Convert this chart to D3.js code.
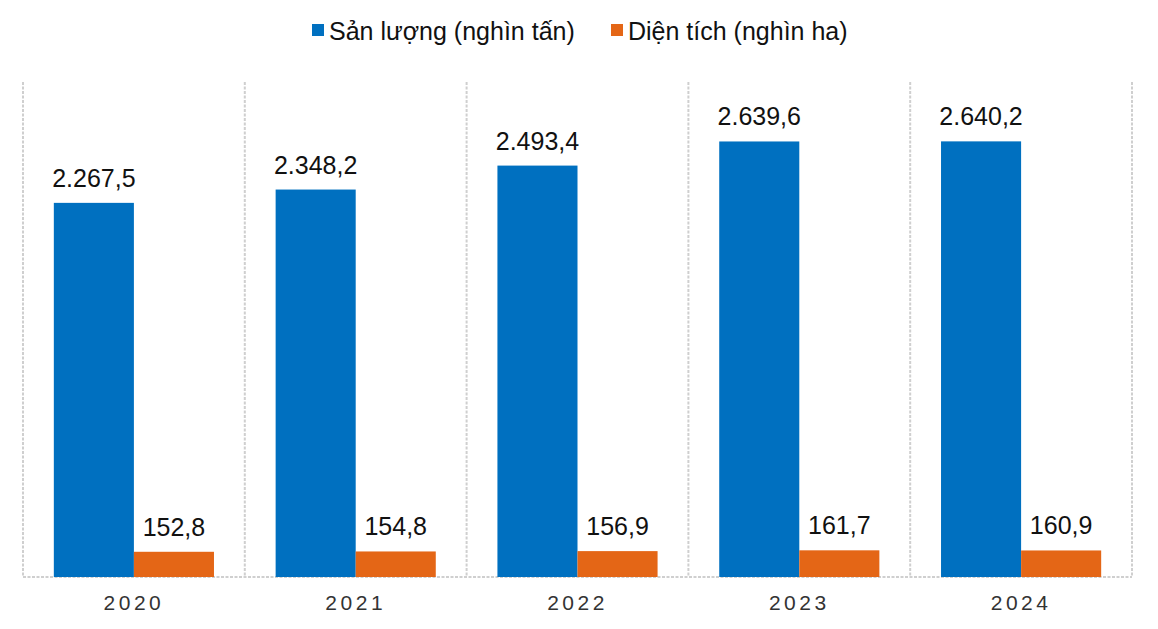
<!DOCTYPE html>
<html><head><meta charset="utf-8">
<script src="https://cdn.jsdelivr.net/npm/d3@7/dist/d3.min.js"></script>
<style>body{margin:0;background:#fff}svg{display:block}</style>
</head><body>
<svg id="chart" width="1158" height="629"></svg>
<script>
const years = ["2020","2021","2022","2023","2024"];
const seriesNames = ["Sản lượng (nghìn tấn)","Diện tích (nghìn ha)"];
const sanLuong = [2267.5, 2348.2, 2493.4, 2639.6, 2640.2];
const dienTich = [152.8, 154.8, 156.9, 161.7, 160.9];
const colors = ["#0070C0", "#E46616"];

const svg = d3.select("#chart");
const W = 1158, H = 629;
const m = {left: 23, right: 26, top: 82, bottom: 52};
const x = d3.scaleBand().domain(years).range([m.left, W - m.right]).paddingInner(0).paddingOuter(0);
const xs = d3.scaleBand().domain([0,1]).range([0, x.bandwidth()]).paddingInner(0).paddingOuter(0.385);
const y = d3.scaleLinear().domain([0, 3000]).range([H - m.bottom, m.top]);

const fmt = d3.formatLocale({decimal: ",", thousands: ".", grouping: [3], currency: ["", ""]}).format(",.1f");

// vertical separators
const bounds = years.map(d => x(d)).concat([x(years[years.length-1]) + x.bandwidth()]);
svg.append("g").selectAll("line").data(bounds).join("line")
  .attr("x1", d => d).attr("x2", d => d)
  .attr("y1", y(3000)).attr("y2", y(0))
  .attr("stroke", "#cfcfcf").attr("stroke-width", 2).attr("stroke-dasharray", "3,1.5");
// baseline
svg.append("line").attr("x1", m.left).attr("x2", W - m.right).attr("y1", y(0)).attr("y2", y(0))
  .attr("stroke", "#cfcfcf").attr("stroke-width", 2).attr("stroke-dasharray", "3,1.5");

const data = years.map((yr, i) => ({yr, vals: [sanLuong[i], dienTich[i]]}));
const g = svg.append("g").selectAll("g").data(data).join("g")
  .attr("transform", d => `translate(${x(d.yr)},0)`);
g.selectAll("rect").data(d => d.vals.map((v, k) => ({v, k}))).join("rect")
  .attr("x", d => xs(d.k)).attr("width", xs.bandwidth())
  .attr("y", d => y(d.v)).attr("height", d => y(0) - y(d.v))
  .attr("fill", d => colors[d.k]);
g.selectAll("text").data(d => d.vals.map((v, k) => ({v, k}))).join("text")
  .attr("x", d => xs(d.k) + xs.bandwidth()/2).attr("y", d => y(d.v) - 16)
  .attr("text-anchor", "middle")
  .attr("font-family", "Liberation Sans, Arial, sans-serif").attr("font-size", 25)
  .attr("fill", "#111").text(d => fmt(d.v));

// x axis labels
const xAxis = d3.axisBottom(x).tickSize(0).tickPadding(18);
const ax = svg.append("g").attr("transform", `translate(0,${y(0)})`).call(xAxis);
ax.select(".domain").remove();
ax.selectAll("text").attr("font-family", "Liberation Sans, Arial, sans-serif")
  .attr("font-size", 21).attr("fill", "#333").attr("letter-spacing", "3.5px")
  .attr("dx", "0px");

// legend
const legendX = [312, 611];
const lg = svg.append("g").selectAll("g").data(seriesNames).join("g")
  .attr("transform", (d, i) => `translate(${legendX[i]},0)`);
lg.append("rect").attr("x", 0).attr("y", 24).attr("width", 12).attr("height", 12)
  .attr("fill", (d, i) => colors[i]);
lg.append("text").attr("x", 17).attr("y", 40)
  .attr("font-family", "Liberation Sans, Arial, sans-serif").attr("font-size", 25)
  .attr("fill", "#111").text(d => d);
</script>
</body></html>
